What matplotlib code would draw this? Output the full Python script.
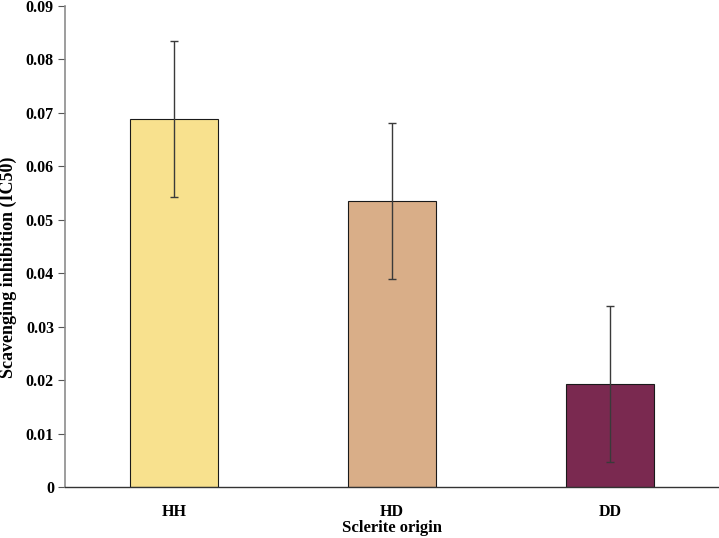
import numpy as np
import matplotlib.pyplot as plt

# Data
categories = ["HH", "HD", "DD"]
ic50 = [0.0688, 0.0535, 0.0193]
errors = [0.0146, 0.0146, 0.0146]
colors = ["#F8E18E", "#D9AE88", "#7A2950"]
y_ticks = [0, 0.01, 0.02, 0.03, 0.04, 0.05, 0.06, 0.07, 0.08, 0.09]
y_tick_labels = ["0", "0.01", "0.02", "0.03", "0.04", "0.05", "0.06", "0.07", "0.08", "0.09"]

plt.rcParams['font.family'] = ['Liberation Serif', 'DejaVu Serif']
plt.rcParams['font.weight'] = 'bold'

fig = plt.figure(figsize=(7.19, 5.38), dpi=100)
ax = fig.add_axes([0.0904, 0.0948, 0.9096, 0.8945])

x = np.arange(len(categories))
ax.bar(x, ic50, width=0.4, color=colors, edgecolor="#1a1a1a", linewidth=0.8, zorder=2)
ax.errorbar(x, ic50, yerr=errors, fmt='none', ecolor="#3a3a3a", elinewidth=1.0,
            capsize=3, capthick=1.0, zorder=3)

ax.set_xlim(-0.5, 2.5)
ax.set_ylim(0, 0.09)
ax.set_xticks(x)
ax.set_xticklabels(categories, fontsize=11.5, fontweight='bold')
ax.set_yticks(y_ticks)
ax.set_yticklabels(y_tick_labels, fontsize=11.5, fontweight='bold')
ax.tick_params(axis='x', length=0, pad=12)
ax.tick_params(axis='y', length=5, width=0.8, color="#555555", pad=3)

ax.spines['top'].set_visible(False)
ax.spines['right'].set_visible(False)
ax.spines['left'].set_color("#8c8c8c")
ax.spines['left'].set_linewidth(1.2)
ax.spines['bottom'].set_color("#333333")
ax.spines['bottom'].set_linewidth(1.0)

ax.set_xlabel("Sclerite origin", fontsize=12, fontweight='bold')
ax.set_ylabel("Scavenging inhibition (IC50)", fontsize=13, fontweight='bold')
ax.xaxis.set_label_coords(0.5, -0.068)
ax.yaxis.set_label_coords(-0.073, 0.457)

fig.savefig("out.png", dpi=100)
